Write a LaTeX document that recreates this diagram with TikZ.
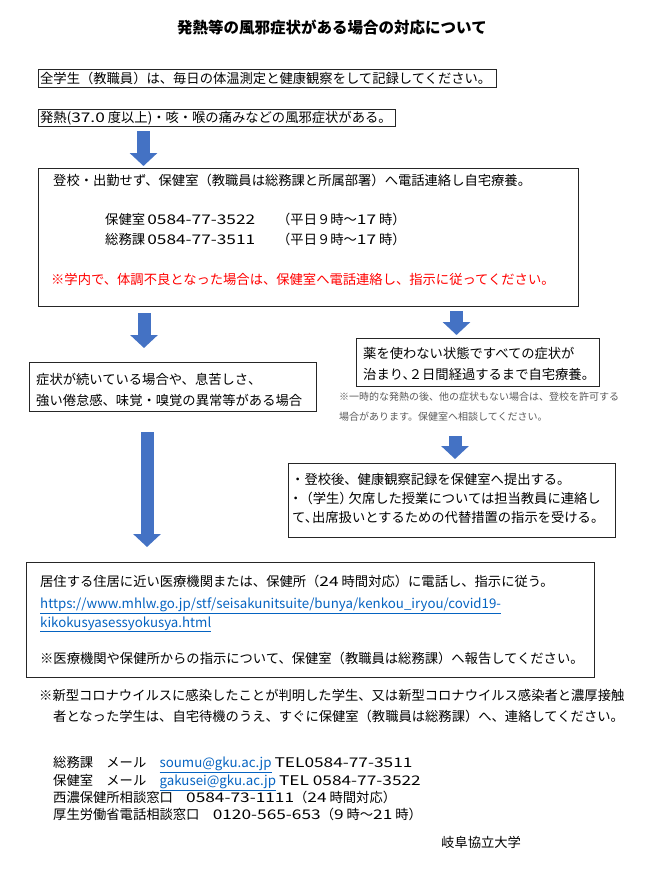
\documentclass[tikz,border=0pt]{standalone}
\usepackage{fontspec}
\setmainfont{Noto Sans CJK JP}
\usetikzlibrary{arrows.meta}
\definecolor{arrowblue}{HTML}{4472C4}
\definecolor{linkblue}{HTML}{0563C1}

\tikzset{
  frame/.style={draw=black!85, line width=1pt, inner sep=0pt, anchor=north west},
  txt/.style={anchor=west, inner sep=0pt, text height=11.7pt, text depth=1.6pt, font=\fontsize{13.3}{16}\selectfont},
  smalltxt/.style={txt, text height=8.8pt, text depth=1.2pt, font=\fontsize{10}{12}\selectfont, text=black!65},
  blockarrow/.style={draw=arrowblue, line width=13pt, -{Triangle[width=27pt,length=13pt]}},
}
\newcommand{\weblink}[1]{\textcolor{linkblue}{\underline{#1}}}
\newcommand{\widenum}[1]{\scalebox{1.3}[1]{#1}}

\begin{document}
\begin{tikzpicture}[x=1pt,y=-1pt]
    \useasboundingbox (0,0) rectangle (658,879);

    %Title
    \node[txt, anchor=center, font=\fontsize{15.5}{18}\selectfont\bfseries] (title) at (332,28) {発熱等の風邪症状がある場合の対応について};

    %First two lines
    \node[frame, minimum width=458pt, minimum height=18pt] (allrec) at (38,69) {};
    \node[txt] (allrectxt) at (40,78) {全学生（教職員）は、毎日の体温測定と健康観察をして記録してください。};

    \node[frame, minimum width=357pt, minimum height=17pt] (fever) at (38,109) {};
    \node[txt] (fevertxt) at (40,117.5) {発熱(\widenum{37.0} 度以上)・咳・喉の痛みなどの風邪症状がある。};

    %Stay at home
    \node[frame, minimum width=540pt, minimum height=138pt] (stayhome) at (38,168) {};
    \node[txt] (homeline) at (53,180) {登校・出勤せず、保健室（教職員は総務課と所属部署）へ電話連絡し自宅療養。};
    \node[txt] (telhealth) at (105,219) {\makebox[172pt][l]{保健室\,\widenum{0584-77-3522}}（平日９時～\widenum{17} 時）};
    \node[txt] (telgeneral) at (105,239) {\makebox[172pt][l]{総務課\,\widenum{0584-77-3511}}（平日９時～\widenum{17} 時）};
    \node[txt, text=red] (warn) at (51,279) {※学内で、体調不良となった場合は、保健室へ電話連絡し、指示に従ってください。};

    %Right branch
    \node[frame, minimum width=243pt, minimum height=48pt] (medfree) at (356,338) {};
    \node[txt] (medfreeone) at (363,353) {薬を使わない状態ですべての症状が};
    \node[txt] (medfreetwo) at (363,374) {治まり、\kern-7pt ２日間経過するまで自宅療養。};
    \node[smalltxt] (noteone) at (339,397) {※一時的な発熱の後、他の症状もない場合は、登校を許可する};
    \node[smalltxt] (notetwo) at (339,417) {場合があります。保健室へ相談してください。};

    \node[frame, minimum width=327pt, minimum height=74pt] (report) at (288,463) {};
    \node[txt] (reportone) at (291,479) {・登校後、健康観察記録を保健室へ提出する。};
    \node[txt] (reporttwo) at (289,498) {・\kern-3pt（学生）\kern-4pt 欠席した授業については担当教員に連絡し};
    \node[txt] (reportthree) at (292,517) {て、\kern-6pt 出席扱いとするための代替措置の指示を受ける。};

    %Left branch
    \node[frame, minimum width=287pt, minimum height=49pt] (symptom) at (29,362) {};
    \node[txt] (symptomone) at (36,379) {症状が続いている場合や、息苦しさ、};
    \node[txt] (symptomtwo) at (36,400) {強い倦怠感、味覚・嗅覚の異常等がある場合};

    \node[frame, minimum width=568pt, minimum height=115pt] (clinic) at (26,562) {};
    \node[txt] (clinicone) at (40,581) {居住する住居に近い医療機関または、保健所（\widenum{24} 時間対応）に電話し、指示に従う。};
    \node[txt] (urlone) at (40,603) {\weblink{https://www.mhlw.go.jp/stf/seisakunitsuite/bunya/kenkou\_iryou/covid19-}};
    \node[txt] (urltwo) at (40,622) {\weblink{kikokusyasessyokusya.html}};
    \node[txt] (clinicnote) at (40,658) {※医療機関や保健所からの指示について、保健室（教職員は総務課）へ報告してください。};

    %Arrows
    \draw[blockarrow] ([xshift=105.5pt,yshift=-4pt]fever.south west) -- ([xshift=105.5pt,yshift=2pt]stayhome.north west);
    \draw[blockarrow] ([xshift=106pt,yshift=-6pt]stayhome.south west) -- ([xshift=115pt,yshift=14pt]symptom.north west);
    \draw[blockarrow] ([xshift=418.5pt,yshift=-4pt]stayhome.south west) -- ([xshift=100.5pt,yshift=3pt]medfree.north west);
    \draw[blockarrow] ([xshift=118pt,yshift=-20pt]symptom.south west) -- ([xshift=121pt,yshift=15pt]clinic.north west);
    \draw[blockarrow] ([xshift=99pt,yshift=-49pt]medfree.south west) -- ([xshift=167pt,yshift=4pt]report.north west);

    %Bottom notes
    \node[txt] (infectone) at (39,695) {※新型コロナウイルスに感染したことが判明した学生、又は新型コロナウイルス感染者と濃厚接触};
    \node[txt] (infecttwo) at (53,716) {者となった学生は、自宅待機のうえ、すぐに保健室（教職員は総務課）へ、連絡してください。};

    %Contacts
    \node[txt] (mailgeneral) at (53,762) {総務課　メール　\weblink{soumu@gku.ac.jp} \widenum{TEL0584-77-3511}};
    \node[txt] (mailhealth) at (53,780) {保健室　メール　\weblink{gakusei@gku.ac.jp} \widenum{TEL 0584-77-3522}};
    \node[txt] (seino) at (53,797) {西濃保健所相談窓口　\widenum{0584-73-1111}（\widenum{24} 時間対応）};
    \node[txt] (mhlw) at (53,814) {厚生労働省電話相談窓口　\widenum{0120-565-653}（\widenum{9} 時～\widenum{21} 時）};
    \node[txt] (univ) at (441,842) {岐阜協立大学};

\end{tikzpicture}
\end{document}
